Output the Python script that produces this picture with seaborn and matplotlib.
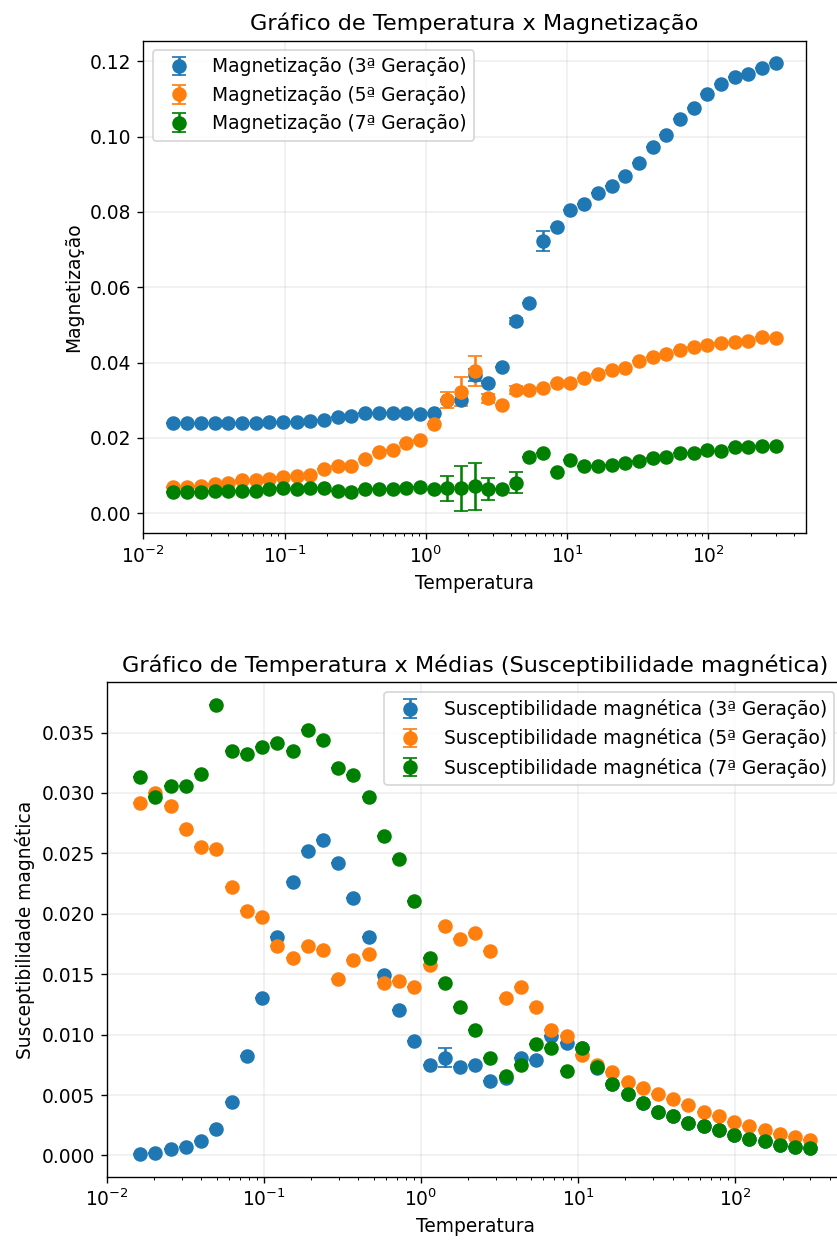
import matplotlib
matplotlib.use("Agg")
import matplotlib.pyplot as plt
import seaborn as sns

# Temperature grid (ascending)
temperatura = [0.01633, 0.02042, 0.02552, 0.03190, 0.03988, 0.04985, 0.06231,
               0.07788, 0.09735, 0.1217, 0.1521, 0.1901, 0.2377, 0.2971,
               0.3714, 0.4642, 0.5803, 0.7253, 0.9067, 1.133, 1.417, 1.771,
               2.214, 2.767, 3.459, 4.323, 5.404, 6.755, 8.444, 10.555,
               13.194, 16.493, 20.616, 25.770, 32.212, 40.265, 50.332,
               62.915, 78.643, 98.304, 122.88, 153.6, 192.0, 240.0, 300.0]

# Magnetization per generation
mag_g3 = [0.0239, 0.0239, 0.0239, 0.0240, 0.0240, 0.0240, 0.0240, 0.0243,
          0.0243, 0.0243, 0.0246, 0.0248, 0.0255, 0.0258, 0.0265, 0.0265,
          0.0265, 0.0265, 0.0263, 0.0265, 0.0300, 0.0301, 0.0367, 0.0345,
          0.0389, 0.0511, 0.0559, 0.0723, 0.0759, 0.0805, 0.0822, 0.0849,
          0.0869, 0.0895, 0.0929, 0.0973, 0.1003, 0.1047, 0.1077, 0.1114,
          0.1139, 0.1157, 0.1167, 0.1182, 0.1195]
mag_g5 = [0.0069, 0.0069, 0.0072, 0.0078, 0.0081, 0.0088, 0.0088, 0.0092,
          0.0096, 0.0099, 0.0102, 0.0117, 0.0124, 0.0124, 0.0145, 0.0163,
          0.0168, 0.0186, 0.0194, 0.0237, 0.0301, 0.0323, 0.0378, 0.0305,
          0.0287, 0.0327, 0.0327, 0.0332, 0.0345, 0.0345, 0.0358, 0.0370,
          0.0380, 0.0385, 0.0404, 0.0415, 0.0423, 0.0433, 0.0442, 0.0447,
          0.0451, 0.0455, 0.0457, 0.0469, 0.0464]
mag_g7 = [0.0056, 0.0056, 0.0056, 0.0060, 0.0060, 0.0060, 0.0060, 0.0064,
          0.0066, 0.0064, 0.0066, 0.0066, 0.0058, 0.0055, 0.0064, 0.0064,
          0.0064, 0.0066, 0.0069, 0.0064, 0.0066, 0.0066, 0.0071, 0.0064,
          0.0064, 0.0081, 0.0150, 0.0159, 0.0110, 0.0141, 0.0124, 0.0124,
          0.0128, 0.0133, 0.0139, 0.0146, 0.0150, 0.0161, 0.0159, 0.0168,
          0.0166, 0.0175, 0.0175, 0.0179, 0.0179]

err_mag_g3 = [0.0] * 22 + [0.0015, 0.0, 0.0, 0.0008, 0.0, 0.0026] + [0.0] * 17
err_mag_g5 = [0.0] * 20 + [0.0022, 0.0038, 0.0040, 0.0012, 0.0, 0.0010] + [0.0] * 19
err_mag_g7 = [0.0] * 20 + [0.0034, 0.0060, 0.0062, 0.0030, 0.0, 0.0027] + [0.0] * 19

# Magnetic susceptibility per generation
sus_g3 = [0.0001, 0.0002, 0.0005, 0.0007, 0.0012, 0.0022, 0.0044, 0.0082,
          0.0130, 0.0181, 0.0226, 0.0252, 0.0261, 0.0242, 0.0213, 0.0181,
          0.0149, 0.0120, 0.0095, 0.0075, 0.0081, 0.0073, 0.0075, 0.0062,
          0.0064, 0.0081, 0.0079, 0.0099, 0.0093, 0.0089, 0.0072, 0.0059,
          0.0051, 0.0043, 0.0036, 0.0033, 0.0027, 0.0024, 0.0021, 0.0017,
          0.0014, 0.0012, 0.0009, 0.0007, 0.0006]
sus_g5 = [0.0292, 0.0300, 0.0289, 0.0270, 0.0255, 0.0254, 0.0222, 0.0202,
          0.0197, 0.0173, 0.0163, 0.0173, 0.0170, 0.0146, 0.0162, 0.0167,
          0.0143, 0.0144, 0.0139, 0.0158, 0.0190, 0.0179, 0.0184, 0.0169,
          0.0130, 0.0139, 0.0123, 0.0104, 0.0099, 0.0083, 0.0075, 0.0069,
          0.0061, 0.0056, 0.0051, 0.0047, 0.0042, 0.0036, 0.0033, 0.0028,
          0.0024, 0.0021, 0.0018, 0.0015, 0.0013]
sus_g7 = [0.0313, 0.0297, 0.0306, 0.0306, 0.0316, 0.0373, 0.0335, 0.0332,
          0.0338, 0.0341, 0.0335, 0.0352, 0.0344, 0.0321, 0.0315, 0.0297,
          0.0264, 0.0245, 0.0211, 0.0163, 0.0143, 0.0123, 0.0104, 0.0081,
          0.0066, 0.0075, 0.0092, 0.0089, 0.0070, 0.0089, 0.0073, 0.0059,
          0.0051, 0.0043, 0.0036, 0.0033, 0.0027, 0.0024, 0.0021, 0.0017,
          0.0014, 0.0012, 0.0009, 0.0007, 0.0006]

err_sus_g3 = [0.0] * 20 + [0.0008] + [0.0] * 24
err_sus_g5 = [0.0] * 45
err_sus_g7 = [0.0] * 45

geracoes = ["3ª", "5ª", "7ª"]

sns.set_theme(style="ticks", context="notebook", rc={
    "font.size": 10.9, "axes.titlesize": 13.1, "axes.labelsize": 10.9,
    "xtick.labelsize": 10.9, "ytick.labelsize": 10.9, "legend.fontsize": 10.9,
    "axes.edgecolor": "black", "text.color": "black", "axes.labelcolor": "black",
    "xtick.color": "black", "ytick.color": "black",
    "axes.linewidth": 0.8, "xtick.major.width": 0.8, "ytick.major.width": 0.8,
    "xtick.minor.width": 0.6, "xtick.major.size": 3.5, "ytick.major.size": 3.5,
    "xtick.minor.size": 2,
    "lines.linewidth": 1.5, "lines.markersize": 7.5,
})
plt.rcParams["font.family"] = ["DejaVu Sans"]

cores = [sns.color_palette("tab10")[0], sns.color_palette("tab10")[1], "green"]

dpi = 123
fig = plt.figure(figsize=(837 / dpi, 1241 / dpi), dpi=dpi)

W, H = 837, 1241
ax1 = fig.add_axes([143.3 / W, 1 - 533.3 / H, (806 - 143.3) / W, (533.3 - 40.7) / H])
ax2 = fig.add_axes([106.7 / W, 1 - 1176.7 / H, (843.8 - 106.7) / W, (1176.7 - 682.3) / H])

for serie, erro, cor, g in zip([mag_g3, mag_g5, mag_g7],
                               [err_mag_g3, err_mag_g5, err_mag_g7], cores, geracoes):
    ax1.errorbar(temperatura, serie, yerr=erro, fmt="o", color=cor, capsize=4,
                 label=f"Magnetização ({g} Geração)")
ax1.set_xscale("log")
ax1.set_xlabel("Temperatura")
ax1.set_ylabel("Magnetização")
ax1.set_title("Gráfico de Temperatura x Magnetização")
ax1.grid(True, alpha=0.3)
ax1.legend(loc="upper left")

for serie, erro, cor, g in zip([sus_g3, sus_g5, sus_g7],
                               [err_sus_g3, err_sus_g5, err_sus_g7], cores, geracoes):
    ax2.errorbar(temperatura, serie, yerr=erro, fmt="o", color=cor, capsize=4,
                 label=f"Susceptibilidade magnética ({g} Geração)")
ax2.set_xscale("log")
ax2.set_xlabel("Temperatura")
ax2.set_ylabel("Susceptibilidade magnética")
ax2.set_title("Gráfico de Temperatura x Médias (Susceptibilidade magnética)")
ax2.grid(True, alpha=0.3)
ax2.legend(loc="upper right")

fig.savefig("out.png", dpi=dpi)
